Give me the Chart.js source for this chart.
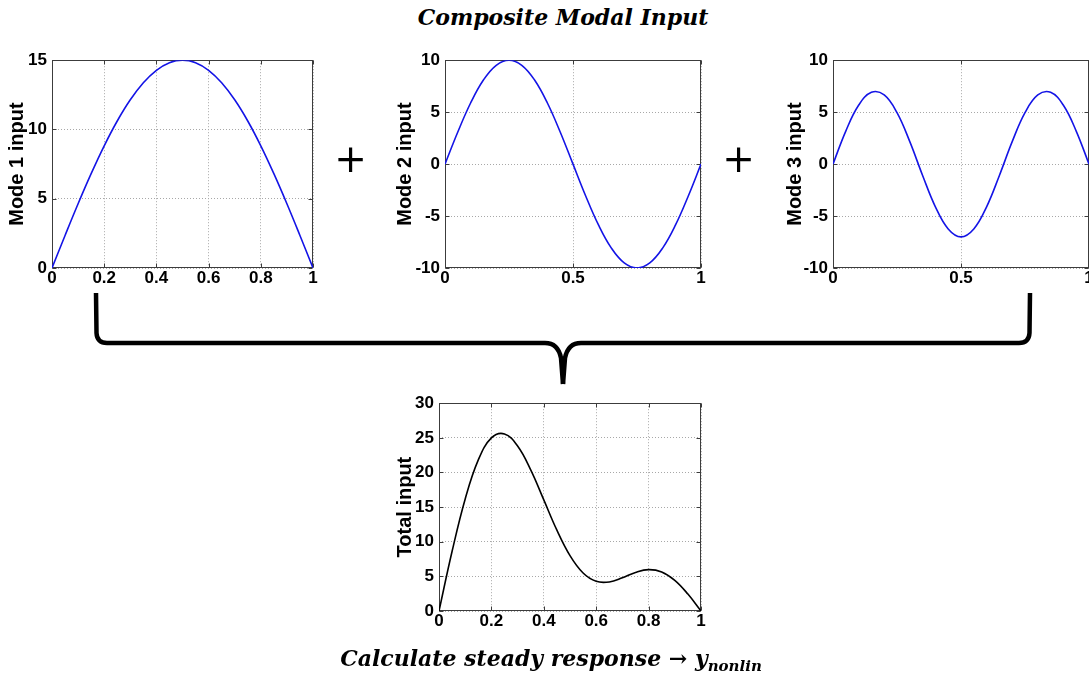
<!DOCTYPE html>
<html>
<head>
<meta charset="utf-8">
<script src="https://cdn.jsdelivr.net/npm/chart.js@4"></script>
<style>
  html, body { margin:0; padding:0; overflow:hidden; background:#fff; }
  #wrap { position:relative; width:1089px; height:677px; overflow:hidden; background:#fff; }
  canvas { position:absolute; }
  #title { position:absolute; left:0; width:1126px; top:5px; text-align:center;
           font-family:"DejaVu Serif", serif; font-weight:bold; font-style:italic; font-size:22px; line-height:24px; color:#000; }
  #bottom { position:absolute; left:0; width:1102px; top:645px; text-align:center;
           font-family:"DejaVu Serif", serif; font-weight:bold; font-style:italic; font-size:22px; line-height:26px; color:#000; white-space:nowrap; }
  #bottom sub { font-size:15px; vertical-align:-5px; line-height:0; }
  .plus { position:absolute; font-family:"DejaVu Sans", sans-serif; font-size:39px; line-height:39px; color:#000;
          transform:translate(-50%,-50%); }
  svg { position:absolute; left:0; top:0; }
</style>
</head>
<body>
<div id="wrap">
  <div id="title">Composite Modal Input</div>
  <canvas id="c1"></canvas>
  <canvas id="c2"></canvas>
  <canvas id="c3"></canvas>
  <canvas id="c4"></canvas>
  <div class="plus" style="left:350.5px; top:158px;">+</div>
  <div class="plus" style="left:738.5px; top:158px;">+</div>
  <svg width="1089" height="677">
    <path d="M96,293 L96.5,333 Q97,343 107,343 L545,343 Q558,343 561,358 L563,384" fill="none" stroke="#000" stroke-width="4.5"/>
    <path d="M1030,293 L1029.5,333 Q1029,343 1019,343 L581,343 Q568,343 565,358 L563,384" fill="none" stroke="#000" stroke-width="4.5"/>
  </svg>
  <div id="bottom">Calculate steady response → y<sub>nonlin</sub></div>
</div>
<script>
// ---- data ----
const xs    = [0,0.05,0.1,0.15,0.2,0.25,0.3,0.35,0.4,0.45,0.5,0.55,0.6,0.65,0.7,0.75,0.8,0.85,0.9,0.95,1];
const mode1 = [0,2.35,4.64,6.81,8.82,10.61,12.14,13.37,14.27,14.82,15,14.82,14.27,13.37,12.14,10.61,8.82,6.81,4.64,2.35,0];
const mode2 = [0,3.09,5.88,8.09,9.51,10,9.51,8.09,5.88,3.09,0,-3.09,-5.88,-8.09,-9.51,-10,-9.51,-8.09,-5.88,-3.09,0];
const mode3 = [0,3.18,5.66,6.91,6.66,4.95,2.16,-1.09,-4.11,-6.24,-7,-6.24,-4.11,-1.09,2.16,4.95,6.66,6.91,5.66,3.18,0];
const total = [0,8.62,16.18,21.81,24.99,25.56,23.81,20.37,16.04,11.67,8,5.49,4.28,4.19,4.79,5.56,5.97,5.63,4.42,2.44,0];

const xTicksFine  = [0,0.2,0.4,0.6,0.8,1];
const xTicksHalf  = [0,0.5,1];
const yTicksMode1 = [0,5,10,15];
const yTicksMode  = [-10,-5,0,5,10];
const yTicksTotal = [0,5,10,15,20,25,30];

// ---- layout ----
const Y_W = 52, X_H = 24, PAD_T = 14, PAD_R = 22, PAD_B = 6;
const FONT = '"Liberation Sans", Arial, sans-serif';

const boxPlugin = {
  id: 'box',
  beforeDatasetsDraw(chart) {
    const {ctx, chartArea: a, scales} = chart;
    const l = Math.round(a.left) + 0.5, t = Math.round(a.top) + 0.5;
    const r = Math.round(a.right) - 0.5, b = Math.round(a.bottom) - 0.5;
    ctx.save();
    ctx.strokeStyle = '#3c3c3c';
    ctx.lineWidth = 1;
    ctx.setLineDash([]);
    ctx.strokeRect(l, t, r - l, b - t);
    ctx.beginPath();
    scales.x.ticks.forEach(tk => {
      const p = Math.round(scales.x.getPixelForValue(tk.value)) + 0.5;
      ctx.moveTo(p, b); ctx.lineTo(p, b - 4);
      ctx.moveTo(p, t); ctx.lineTo(p, t + 4);
    });
    scales.y.ticks.forEach(tk => {
      const p = Math.round(scales.y.getPixelForValue(tk.value)) + 0.5;
      ctx.moveTo(l, p); ctx.lineTo(l + 4, p);
      ctx.moveTo(r, p); ctx.lineTo(r - 4, p);
    });
    ctx.stroke();
    ctx.restore();
  }
};

const fmt = v => String(Math.round(v * 10) / 10);

function makeChart(id, plot, xt, yt, yTitle, titleCx, values, color) {
  const cv = document.getElementById(id);
  const w = Y_W + (plot.R - plot.L) + PAD_R;
  const h = PAD_T + (plot.B - plot.T) + X_H + PAD_B;
  cv.width = w; cv.height = h;
  cv.style.width = w + 'px'; cv.style.height = h + 'px';
  cv.style.left = (plot.L - Y_W) + 'px';
  cv.style.top = (plot.T - PAD_T) + 'px';
  const titleSize = 20;
  const titlePad = titleCx - (plot.L - Y_W) - titleSize * 1.2 / 2;
  const tickFont = {family: FONT, size: 17, weight: 'bold'};
  const gridOpts = {color: '#a8a8a8', lineWidth: 1, drawTicks: false};
  return new Chart(cv, {
    type: 'line',
    data: {
      datasets: [{
        data: xs.map((x, i) => ({x: x, y: values[i]})),
        borderColor: color,
        borderWidth: 1.6,
        pointRadius: 0,
        tension: 0.4,
        fill: false
      }]
    },
    options: {
      responsive: false,
      animation: false,
      events: [],
      layout: {padding: {left: 0, top: PAD_T, right: PAD_R, bottom: PAD_B}},
      plugins: {legend: {display: false}, tooltip: {enabled: false}},
      scales: {
        x: {
          type: 'linear', min: 0, max: 1,
          afterBuildTicks: s => { s.ticks = xt.map(v => ({value: v})); },
          afterFit: s => { s.height = X_H; },
          ticks: {font: tickFont, color: '#000', padding: 0, maxRotation: 0, autoSkip: false, callback: v => fmt(v)},
          grid: gridOpts,
          border: {display: false, dash: [1, 2]}
        },
        y: {
          type: 'linear', min: yt[0], max: yt[yt.length - 1],
          afterBuildTicks: s => { s.ticks = yt.map(v => ({value: v})); },
          afterFit: s => { s.width = Y_W; },
          ticks: {font: tickFont, color: '#000', padding: 5, autoSkip: false, callback: v => fmt(v)},
          title: {display: true, text: yTitle, color: '#000',
                  font: {family: FONT, size: titleSize, weight: 'bold'},
                  padding: {top: titlePad, bottom: 0}},
          grid: gridOpts,
          border: {display: false, dash: [1, 2]}
        }
      }
    },
    plugins: [boxPlugin]
  });
}

const BLUE = '#1414e6';
makeChart('c1', {L: 52, T: 59, R: 313, B: 268}, xTicksFine, yTicksMode1, 'Mode 1 input', 17.5, mode1, BLUE);
makeChart('c2', {L: 445, T: 59, R: 701, B: 268}, xTicksHalf, yTicksMode, 'Mode 2 input', 405.5, mode2, BLUE);
makeChart('c3', {L: 833, T: 59, R: 1089, B: 268}, xTicksHalf, yTicksMode, 'Mode 3 input', 795.5, mode3, BLUE);
makeChart('c4', {L: 439, T: 402, R: 701, B: 611}, xTicksFine, yTicksTotal, 'Total input', 405.5, total, '#000');
</script>
</body>
</html>
